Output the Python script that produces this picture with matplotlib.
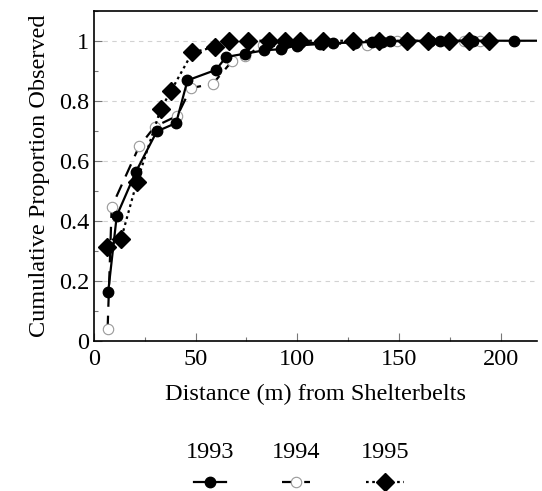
import matplotlib
matplotlib.use("Agg")
import matplotlib.pyplot as plt
from matplotlib.lines import Line2D
from matplotlib.ticker import MultipleLocator

plt.rcParams['font.family'] = ['Liberation Serif', 'DejaVu Serif']
plt.rcParams['mathtext.fontset'] = 'stix'

# --- data (distance in m, cumulative proportion) ---
x1993 = [7.0, 11.2, 20.5, 30.9, 40.4, 46.0, 60.0, 65.0, 74.4, 83.7, 92.0, 99.8,
         111.0, 117.6, 128.2, 136.8, 141.7, 145.8, 165.5, 170.4, 186.7, 206.6, 240.0]
y1993 = [0.164, 0.417, 0.562, 0.698, 0.726, 0.868, 0.903, 0.946, 0.957, 0.968, 0.972, 0.984,
         0.989, 0.992, 0.994, 0.996, 0.997, 0.998, 1.0, 1.0, 1.0, 1.0, 1.0]

x1994 = [6.7, 8.7, 22.2, 29.9, 41.0, 47.6, 58.5, 67.8, 74.4, 83.3, 92.4, 101.5,
         111.3, 134.3, 149.0, 155.0, 182.0, 190.0]
y1994 = [0.04, 0.446, 0.648, 0.714, 0.750, 0.842, 0.857, 0.931, 0.948, 0.987, 0.980, 0.992,
         0.993, 0.987, 0.998, 0.999, 1.0, 1.0]

x1995 = [6.2, 13.3, 21.0, 32.8, 37.9, 48.4, 59.3, 66.5, 76.0, 85.9, 94.1, 101.5,
         112.9, 127.4, 140.0, 154.0, 164.4, 174.5, 184.4, 194.2]
y1995 = [0.314, 0.339, 0.528, 0.772, 0.833, 0.961, 0.979, 1.0, 1.0, 1.0, 1.0, 1.0,
         1.0, 1.0, 1.0, 1.0, 1.0, 1.0, 1.0, 1.0]

years = ["1993", "1994", "1995"]
xticks = [0, 50, 100, 150, 200]
yticks = [0, 0.2, 0.4, 0.6, 0.8, 1.0]
yticklabels = ["0", "0.2", "0.4", "0.6", "0.8", "1"]

fig = plt.figure(figsize=(5.42, 4.91), dpi=100)
ax = fig.add_axes([0.1734, 0.3055, 0.8176, 0.6727])

for yv in yticks[1:]:
    ax.axhline(yv, color="#d2d2d2", lw=0.8, ls=(0, (4, 4)), zorder=0)

s93 = dict(color="black", lw=1.6, ls="-", marker="o", ms=7.5, mfc="black", mec="black")
s94 = dict(color="black", lw=1.6, ls=(0, (6, 4)), marker="o", ms=7.5, mfc="white",
           mec="#999999", mew=0.8)
s95 = dict(color="black", lw=1.6, ls=(0, (1.2, 1.6)), marker="D", ms=9, mfc="black", mec="black")

ax.plot(x1994, y1994, zorder=3, **s94)
ax.plot(x1993, y1993, zorder=4, **s93)
ax.plot(x1995, y1995, zorder=5, **s95)

ax.set_xlim(0, 218)
ax.set_ylim(0, 1.1)
ax.set_xticks(xticks)
ax.set_yticks(yticks)
ax.set_yticklabels(yticklabels)
ax.xaxis.set_minor_locator(MultipleLocator(25))
ax.yaxis.set_minor_locator(MultipleLocator(0.1))
ax.tick_params(which="both", direction="in", labelsize=17.5, width=0.8, color="#777777")
ax.tick_params(which="major", length=6)
ax.tick_params(which="minor", length=3)
ax.tick_params(axis="x", pad=6)
ax.spines["right"].set_visible(False)
for s in ("left", "bottom", "top"):
    ax.spines[s].set_linewidth(1.2)

ax.set_xlabel("Distance (m) from Shelterbelts", fontsize=17.5, labelpad=10)
ax.set_ylabel("Cumulative Proportion Observed", fontsize=17.5, labelpad=6)

# legend: year above each line sample
styles = [s93, s94, s95]
centers = [210 / 542, 296 / 542, 385 / 542]
hlens = [2.3, 2.0, 2.8]
for yr, st, cx, hl in zip(years, styles, centers, hlens):
    h = Line2D([], [], **st)
    leg = fig.legend(handles=[h], labels=[""], title=yr, frameon=False,
                     loc="center", bbox_to_anchor=(cx, 1 - 466 / 491),
                     handlelength=hl, handletextpad=0, borderpad=0,
                     title_fontsize=17.5)
    leg._legend_box.sep = 10

fig.savefig("out.png", dpi=100)
